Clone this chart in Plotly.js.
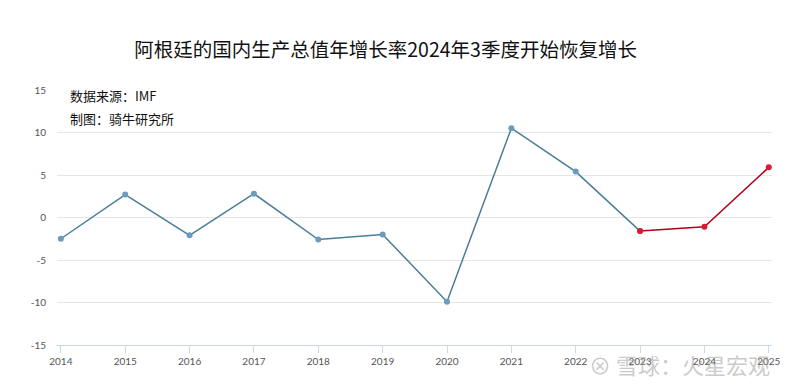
<!DOCTYPE html>
<html><head><meta charset="utf-8">
<script src="https://cdn.plot.ly/plotly-3.0.1.min.js"></script>
<style>body{margin:0;background:#fff}#c{width:800px;height:389px}</style>
</head><body><div id="c"></div>
<script>
const years = [2014,2015,2016,2017,2018,2019,2020,2021,2022,2023,2024,2025];
const histYears = [2014,2015,2016,2017,2018,2019,2020,2021,2022,2023];
const histValues = [-2.5,2.7,-2.1,2.8,-2.6,-2.0,-9.9,10.5,5.4,-1.6];
const forecastYears = [2023,2024,2025];
const forecastValues = [-1.6,-1.1,5.9];
const yTicks = [-15,-10,-5,0,5,10,15];

const tickFont = {family:'Lato, "Open Sans", sans-serif', size:10, color:'#555'};
const traces = [
 {x:histYears, y:histValues, type:'scatter', mode:'lines+markers',
  line:{color:'#4a7d97', width:1.5}, marker:{color:'#6a9cbd', size:6}, hoverinfo:'x+y'},
 {x:forecastYears, y:forecastValues, type:'scatter', mode:'lines+markers',
  line:{color:'#b0001c', width:1.5}, marker:{color:'#e0182e', size:6}, hoverinfo:'x+y'}
];
const layout = {
 width:800, height:389,
 margin:{l:57, r:28, t:90, b:44},
 paper_bgcolor:'#fff', plot_bgcolor:'#fff',
 showlegend:false,
 title:{text:'阿根廷的国内生产总值年增长率2024年3季度开始恢复增长', x:0.482, xanchor:'center', y:0.87, yanchor:'middle',
  font:{family:'"Noto Sans CJK SC", sans-serif', size:19.5, color:'#111'}},
 xaxis:{range:[2013.94,2025.05], tickmode:'array', tickvals:years, ticktext:years.map(String),
  showgrid:false, zeroline:false, showline:true, linecolor:'#ccd6eb', linewidth:1,
  ticks:'outside', ticklen:7, tickcolor:'#ccd6eb', tickfont:tickFont},
 yaxis:{range:[-15,15], tickmode:'array', tickvals:yTicks, ticktext:yTicks.map(String),
  showgrid:true, gridcolor:'#e6e6e6', zeroline:false, showline:false, ticks:'', ticklabelstandoff:10, tickfont:tickFont},
 annotations:[
  {text:'数据来源：IMF', xref:'paper', yref:'paper', x:0.016, y:0.98, xanchor:'left', yanchor:'middle', showarrow:false,
   font:{family:'"Noto Sans CJK SC", sans-serif', size:13, color:'#111'}},
  {text:'制图：骑牛研究所', xref:'paper', yref:'paper', x:0.016, y:0.89, xanchor:'left', yanchor:'middle', showarrow:false,
   font:{family:'"Noto Sans CJK SC", sans-serif', size:13, color:'#111'}},
  {text:'⊗ 雪球：火星宏观', xref:'paper', yref:'paper', x:1.0, y:-0.075, xanchor:'right', yanchor:'middle', showarrow:false,
   font:{family:'"Noto Sans CJK SC", sans-serif', size:22, color:'rgba(150,150,150,0.5)'}}
 ]
};
Plotly.newPlot('c', traces, layout, {displayModeBar:false, staticPlot:true});
</script></body></html>
